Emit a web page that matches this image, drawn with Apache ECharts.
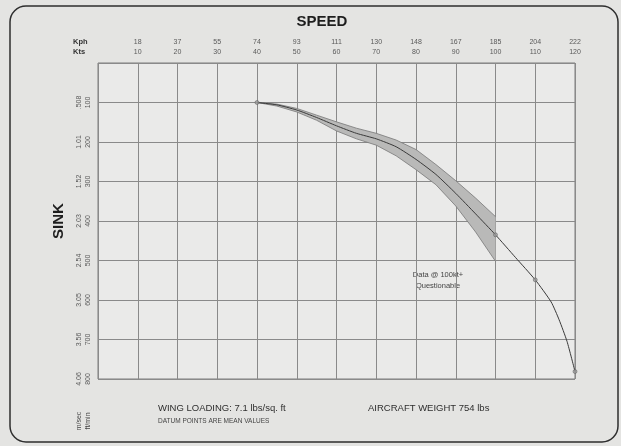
<!DOCTYPE html>
<html>
<head>
<meta charset="utf-8">
<script src="https://cdn.jsdelivr.net/npm/echarts@6/dist/echarts.min.js"></script>
<style>
html,body{margin:0;padding:0;background:#e4e4e2;}
#c{width:621px;height:446px;}
</style>
</head>
<body>
<div id="c"></div>
<script>
// Speed axis tick labels (top, two rows)
const ktsTicks = [10,20,30,40,50,60,70,80,90,100,110,120];
const kphLabels = ['18','37','55','74','93','111','130','148','167','185','204','222'];
const ktsLabels = ['10','20','30','40','50','60','70','80','90','100','110','120'];
// Sink axis tick labels (left, two rows rotated)
const fpmTicks = [100,200,300,400,500,600,700,800];
const msLabels = ['.508','1.01','1.52','2.03','2.54','3.05','3.56','4.06'];
const fpmLabels = ['100','200','300','400','500','600','700','800'];

// Scatter band (kts vs ft/min)
const bandKts   = [40, 45, 50, 55, 60, 65, 70, 75, 80, 85, 90, 95, 100];
const bandUpper = [100,104,115,132,149,165,178,195,219,257,298,342,389];
const bandLower = [100,109,124,145,172,192,208,235,270,308,362,428,502];

// Mean polar curve
const meanKts = [40, 45, 50, 55, 60, 65, 70, 75, 80, 85, 90, 95, 100,105,110,114,116,118,120];
const meanFpm = [100,106,119,138,159,178,192,212,244,282,330,382,435,492,549,605,650,705,781];

// Datum points
const datumKts = [40, 100, 110, 120];
const datumFpm = [100, 435, 549, 781];

const chart = echarts.init(document.getElementById('c'), null, {renderer:'canvas'});
const font = '"Liberation Sans", Arial, sans-serif';

const upperData = bandKts.map((k,i)=>[k, bandUpper[i]]);
const lowerData = bandKts.map((k,i)=>[k, bandLower[i]]);
const meanData = meanKts.map((k,i)=>[k, meanFpm[i]]);
const datumData = datumKts.map((k,i)=>[k, datumFpm[i]]);

chart.setOption({
  backgroundColor: '#e4e4e2',
  animation: false,
  grid: {left:98, top:63, width:477, height:316, show:true, backgroundColor:'#eaeae9', borderColor:'#7c7c7c', borderWidth:1},
  xAxis: {
    type:'value', position:'top', min:0, max:120, interval:10,
    axisLine:{show:false}, axisTick:{show:false},
    splitLine:{show:true, lineStyle:{color:'#8a8a8a', width:1}},
    axisLabel:{
      margin:6, fontFamily:font,
      formatter:(v)=>{ const i = ktsTicks.indexOf(v); if(i<0) return ''; return '{a|'+kphLabels[i]+'}\n{b|'+ktsLabels[i]+'}'; },
      rich:{a:{fontSize:7,color:'#5a5a5a',lineHeight:10,fontFamily:font}, b:{fontSize:7,color:'#5a5a5a',lineHeight:10,fontFamily:font}}
    }
  },
  yAxis: {
    type:'value', inverse:true, min:0, max:800, interval:100,
    axisLine:{show:false}, axisTick:{show:false},
    splitLine:{show:true, lineStyle:{color:'#8a8a8a', width:1}},
    axisLabel:{
      rotate:90, margin:5, fontFamily:font,
      formatter:(v)=>{ const i = fpmTicks.indexOf(v); if(i<0) return ''; return '{a|'+msLabels[i]+'}\n{b|'+fpmLabels[i]+'}'; },
      rich:{a:{fontSize:7,color:'#5a5a5a',lineHeight:9,fontFamily:font}, b:{fontSize:7,color:'#5a5a5a',lineHeight:9,fontFamily:font}}
    }
  },
  series: [
    {type:'custom', name:'bandFill', coordinateSystem:'cartesian2d', data:[[0,0]], z:1,
     renderItem:(params, api)=>{
       const pts = [];
       upperData.forEach(d=>pts.push(api.coord(d)));
       for(let i=lowerData.length-1;i>=0;i--) pts.push(api.coord(lowerData[i]));
       return {type:'polygon', shape:{points:pts}, style:{fill:'#b9b9b8', stroke:'none'}, silent:true};
     }},
    {type:'line', name:'upper', data:upperData, symbol:'none',
     lineStyle:{color:'#777', width:0.8}, z:2},
    {type:'line', name:'lower', data:lowerData, symbol:'none',
     lineStyle:{color:'#777', width:0.8}, z:2},
    {type:'line', name:'mean', data:meanData, smooth:0.2, symbol:'none',
     lineStyle:{color:'#3a3a3a', width:1}, z:3},
    {type:'scatter', name:'datum', data:datumData, symbol:'circle', symbolSize:4,
     itemStyle:{color:'#9a9a9a', borderColor:'#555', borderWidth:0.6}, z:4}
  ],
  graphic: [
    {type:'rect', shape:{x:10, y:6, width:608, height:436, r:16}, style:{fill:'none', stroke:'#2e2e2e', lineWidth:1.5}, silent:true},
    {type:'text', style:{text:'SPEED', x:322, y:22, fontSize:15, fontWeight:'bold', fontFamily:font, fill:'#1e1e1e', textAlign:'center', textVerticalAlign:'middle'}},
    {type:'text', x:59, y:221, rotation:Math.PI/2, style:{text:'SINK', fontSize:15, fontWeight:'bold', fontFamily:font, fill:'#1e1e1e', textAlign:'center', textVerticalAlign:'middle'}},
    {type:'text', style:{text:'Kph', x:73, y:42, fontSize:7.5, fontWeight:'bold', fontFamily:font, fill:'#333', textVerticalAlign:'middle'}},
    {type:'text', style:{text:'Kts', x:73, y:52, fontSize:7.5, fontWeight:'bold', fontFamily:font, fill:'#333', textVerticalAlign:'middle'}},
    {type:'text', x:79, y:421, rotation:Math.PI/2, style:{text:'m/sec', fontSize:7, fontFamily:font, fill:'#444', textAlign:'center', textVerticalAlign:'middle'}},
    {type:'text', x:88, y:421, rotation:Math.PI/2, style:{text:'ft/min', fontSize:7, fontFamily:font, fill:'#444', textAlign:'center', textVerticalAlign:'middle'}},
    {type:'text', style:{text:'Data @ 100kt+', x:438, y:275, fontSize:7.5, fontFamily:font, fill:'#444', textAlign:'center', textVerticalAlign:'middle'}},
    {type:'text', style:{text:'Questionable', x:438, y:286, fontSize:7.5, fontFamily:font, fill:'#444', textAlign:'center', textVerticalAlign:'middle'}},
    {type:'text', style:{text:'WING LOADING: 7.1 lbs/sq. ft', x:158, y:408, fontSize:9.5, fontFamily:font, fill:'#2e2e2e', textVerticalAlign:'middle'}},
    {type:'text', style:{text:'DATUM POINTS ARE MEAN VALUES', x:158, y:421, fontSize:6.5, fontFamily:font, fill:'#444', textVerticalAlign:'middle'}},
    {type:'text', style:{text:'AIRCRAFT WEIGHT 754 lbs', x:368, y:408, fontSize:9.5, fontFamily:font, fill:'#2e2e2e', textVerticalAlign:'middle'}}
  ]
});
</script>
</body>
</html>
